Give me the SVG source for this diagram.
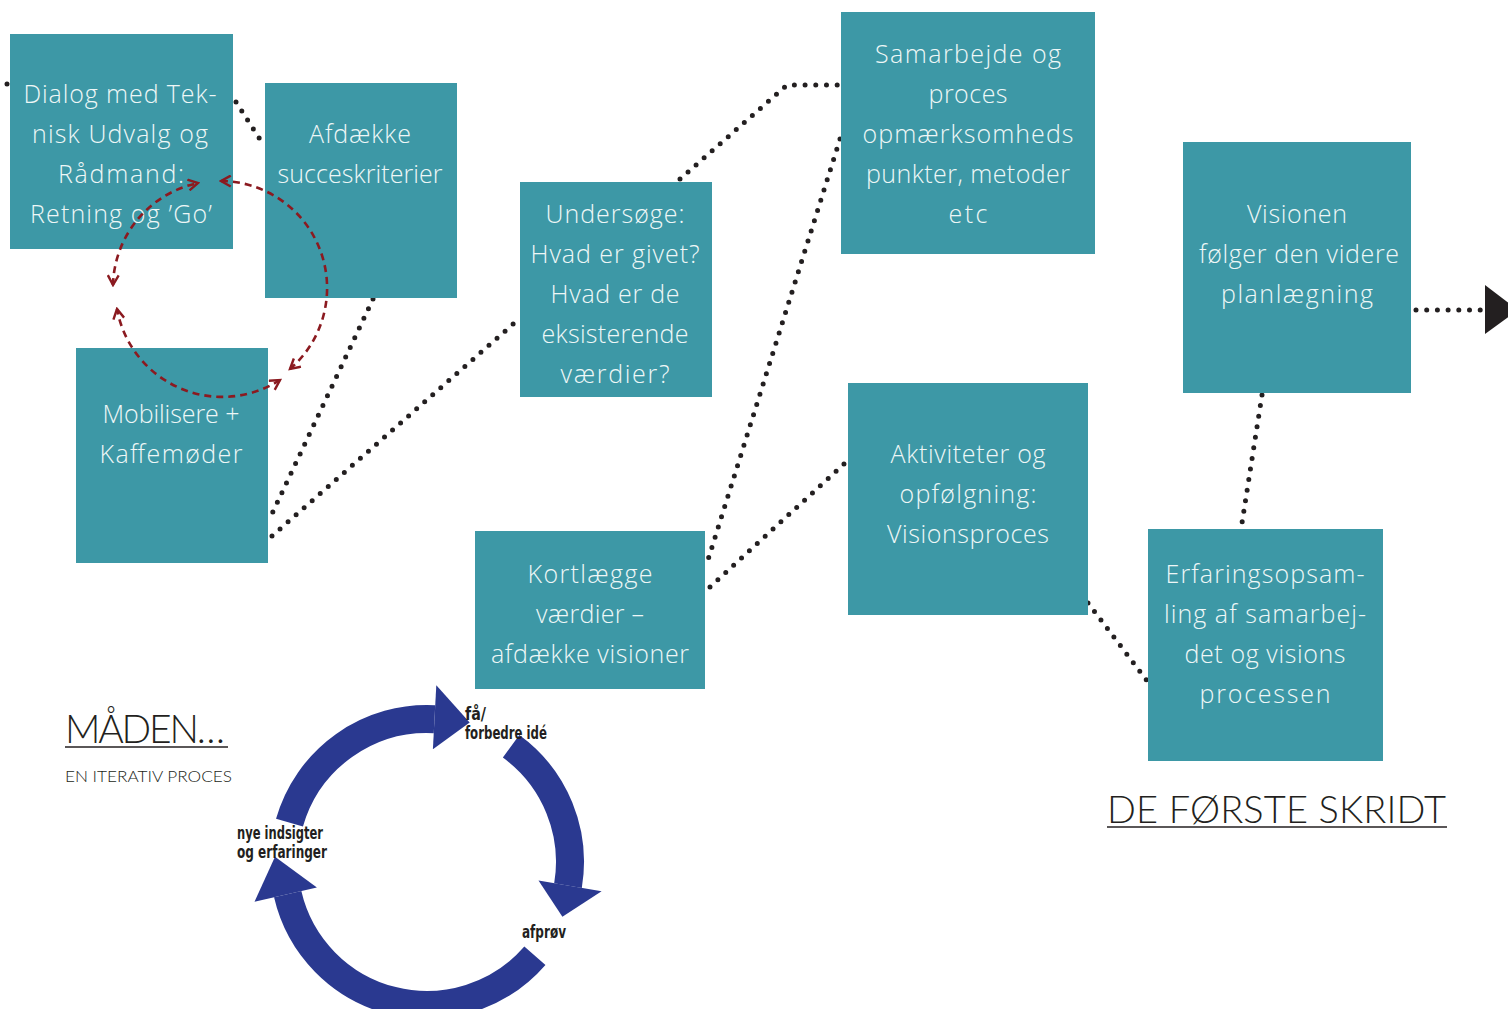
<svg xmlns="http://www.w3.org/2000/svg" width="1508" height="1009" viewBox="0 0 1508 1009">
<style>
.box{fill:#3d98a6}
.bt{font-family:"Open Sans","Lato","Liberation Sans",sans-serif;font-weight:300;font-size:25px;fill:#eef7f7;text-anchor:middle}
.dot{fill:none;stroke:#231f20;stroke-width:5;stroke-linecap:round;stroke-dasharray:0 10.7}
.red{fill:none;stroke:#8b1a20;stroke-width:2.6;stroke-dasharray:7 5}
.cyc{fill:none;stroke:#2a3990;stroke-width:28}
.cyh{fill:#2a3990}
.cl{font-family:"DejaVu Sans Condensed","DejaVu Sans","Liberation Sans",sans-serif;font-weight:bold;font-size:17px;fill:#231f20}
.ttl{font-family:"Lato","Open Sans","Liberation Sans",sans-serif;font-weight:300;fill:#231f20}
</style>
<defs>
<marker id="chev" viewBox="0 0 12 12" refX="10" refY="6" markerWidth="13" markerHeight="13" markerUnits="userSpaceOnUse" orient="auto-start-reverse">
<path d="M1,1 L10,6 L1,11" fill="none" stroke="#8b1a20" stroke-width="2.2" stroke-dasharray="none"/>
</marker>
</defs>
<rect width="1508" height="1009" fill="#ffffff"/>

<g id="connectors">
<line class="dot" x1="7" y1="84" x2="10" y2="84"/>
<line class="dot" x1="236" y1="102" x2="263" y2="144"/>
<line class="dot" x1="373" y1="299" x2="270" y2="518"/>
<line class="dot" x1="272" y1="536" x2="520" y2="318"/>
<polyline class="dot" points="680,179 787,85 840,85"/>
<line class="dot" x1="840" y1="139" x2="707" y2="563"/>
<line class="dot" x1="710" y1="587" x2="845" y2="463"/>
<line class="dot" x1="1088" y1="603" x2="1148" y2="682"/>
<line class="dot" x1="1262" y1="395" x2="1242" y2="523"/>
<line class="dot" x1="1416" y1="310" x2="1481" y2="310"/>
<polygon points="1485,285 1485,334 1518,310" fill="#231f20"/>
</g>

<g id="n-dialog"><rect class="box" x="10" y="34" width="223" height="215"/>
<text class="bt"><tspan x="120" y="103" textLength="193">Dialog med Tek-</tspan><tspan x="120" y="143" textLength="176">nisk Udvalg og</tspan><tspan x="121" y="183" textLength="126">Rådmand:</tspan><tspan x="121" y="223" textLength="182">Retning og ’Go’</tspan></text></g>

<g id="n-afdaekke"><rect class="box" x="265" y="83" width="192" height="215"/>
<text class="bt"><tspan x="360" y="143" textLength="102">Afdække</tspan><tspan x="360" y="183" textLength="165">succeskriterier</tspan></text></g>

<g id="n-mobilisere"><rect class="box" x="76" y="348" width="192" height="215"/>
<text class="bt"><tspan x="171" y="423" textLength="137">Mobilisere +</tspan><tspan x="171" y="463" textLength="143">Kaffemøder</tspan></text></g>

<g id="n-undersoege"><rect class="box" x="520" y="182" width="192" height="215"/>
<text class="bt"><tspan x="615" y="223" textLength="139">Undersøge:</tspan><tspan x="615" y="263" textLength="169">Hvad er givet?</tspan><tspan x="615" y="303" textLength="129">Hvad er de</tspan><tspan x="615" y="343" textLength="147">eksisterende</tspan><tspan x="615" y="383" textLength="109">værdier?</tspan></text></g>

<g id="n-samarbejde"><rect class="box" x="841" y="12" width="254" height="242"/>
<text class="bt"><tspan x="968" y="63" textLength="186">Samarbejde og</tspan><tspan x="968" y="103" textLength="79">proces</tspan><tspan x="968" y="143" textLength="211">opmærksomheds</tspan><tspan x="968" y="183" textLength="204">punkter, metoder</tspan><tspan x="968" y="223" textLength="39">etc</tspan></text></g>

<g id="n-kortlaegge"><rect class="box" x="475" y="531" width="230" height="158"/>
<text class="bt"><tspan x="590" y="583" textLength="125">Kortlægge</tspan><tspan x="590" y="623" textLength="108">værdier –</tspan><tspan x="590" y="663" textLength="198">afdække visioner</tspan></text></g>

<g id="n-aktiviteter"><rect class="box" x="848" y="383" width="240" height="232"/>
<text class="bt"><tspan x="968" y="463" textLength="155">Aktiviteter og</tspan><tspan x="968" y="503" textLength="137">opfølgning:</tspan><tspan x="968" y="543" textLength="162">Visionsproces</tspan></text></g>

<g id="n-visionen"><rect class="box" x="1183" y="142" width="228" height="251"/>
<text class="bt"><tspan x="1297" y="223" textLength="100">Visionen</tspan><tspan x="1299" y="263" textLength="200">følger den videre</tspan><tspan x="1297" y="303" textLength="152">planlægning</tspan></text></g>

<g id="n-erfaring"><rect class="box" x="1148" y="529" width="235" height="232"/>
<text class="bt"><tspan x="1265" y="583" textLength="199">Erfaringsopsam-</tspan><tspan x="1265" y="623" textLength="202">ling af samarbej-</tspan><tspan x="1265" y="663" textLength="161">det og visions</tspan><tspan x="1265" y="703" textLength="131">processen</tspan></text></g>

<g id="red-cycle">
<path class="red" d="M113,285 A107,107 0 0 1 198,183" marker-start="url(#chev)" marker-end="url(#chev)"/>
<path class="red" d="M221,181 A107,107 0 0 1 290,369" marker-start="url(#chev)" marker-end="url(#chev)"/>
<path class="red" d="M280,380 A107,107 0 0 1 117,309" marker-start="url(#chev)" marker-end="url(#chev)"/>
</g>

<g id="title-maaden">
<text class="ttl" x="65" y="743" font-size="39" textLength="160">MÅDEN…</text>
<line x1="65" y1="747" x2="228" y2="747" stroke="#231f20" stroke-width="1.6"/>
<text class="ttl" x="65" y="782" font-size="16.5" font-weight="400" textLength="167" lengthAdjust="spacingAndGlyphs">EN ITERATIV PROCES</text>
</g>

<g id="title-skridt">
<text class="ttl" x="1107" y="823" font-size="38" textLength="339">DE FØRSTE SKRIDT</text>
<line x1="1107" y1="827" x2="1447" y2="827" stroke="#231f20" stroke-width="1.6"/>
</g>

<g id="iteration-cycle">
<path class="cyc" d="M289.5,822.6 A143,143 0 0 1 434.5,719.2"/>
<polygon class="cyh" points="432.9,749.2 436.3,685.2 469.7,722.4"/>
<path class="cyc" d="M511.1,746.3 A143,143 0 0 1 568,885.6"/>
<polygon class="cyh" points="538.5,880.6 601.6,891.2 562.4,916.7"/>
<path class="cyc" d="M534.9,955.8 A143,143 0 0 1 287.7,894.2"/>
<polygon class="cyh" points="316.9,887.4 254.5,901.8 275,856.7"/>
<text class="cl" lengthAdjust="spacingAndGlyphs"><tspan x="465" y="720" textLength="21" lengthAdjust="spacingAndGlyphs">få/</tspan><tspan x="465" y="739" textLength="82" lengthAdjust="spacingAndGlyphs">forbedre idé</tspan></text>
<text class="cl"><tspan x="237" y="839" textLength="86" lengthAdjust="spacingAndGlyphs">nye indsigter</tspan><tspan x="237" y="858" textLength="90" lengthAdjust="spacingAndGlyphs">og erfaringer</tspan></text>
<text class="cl" x="522" y="938" textLength="44" lengthAdjust="spacingAndGlyphs">afprøv</text>
</g>
</svg>
